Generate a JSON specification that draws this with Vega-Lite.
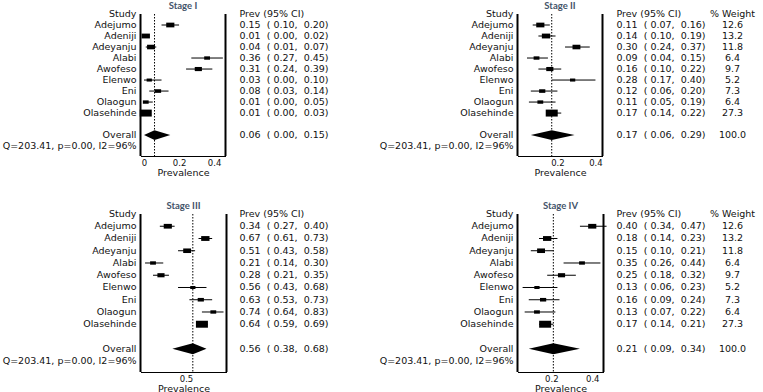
{
 "$schema": "https://vega.github.io/schema/vega-lite/v6.json",
 "padding": {"left": 2.5, "top": 0, "right": 0, "bottom": 0},
 "config": {
  "view": {"stroke": null},
  "font": "DejaVu Sans",
  "text": {"fontSize": 9.5, "color": "#111", "font": "DejaVu Sans"},
  "title": {"font": "Lato", "fontSize": 9.5, "fontWeight": "bold", "color": "#44546a", "offset": -1},
  "axis": {"grid": false},
  "axisX": {"domainColor": "black", "domainWidth": 1, "ticks": false, "tickSize": 0, "labelPadding": 2, "labelFontSize": 8.5, "labelColor": "#111", "labelFont": "DejaVu Sans", "titleFont": "DejaVu Sans", "titleFontSize": 9.5, "titleFontWeight": "normal", "titleColor": "#111", "titlePadding": 0.5, "labelFlush": false}
 },
 "datasets": {
  "labels": [
   {"row": 0, "text": "Study"}, {"row": 1, "text": "Adejumo"}, {"row": 2, "text": "Adeniji"}, {"row": 3, "text": "Adeyanju"}, {"row": 4, "text": "Alabi"}, {"row": 5, "text": "Awofeso"}, {"row": 6, "text": "Elenwo"}, {"row": 7, "text": "Eni"}, {"row": 8, "text": "Olaogun"}, {"row": 9, "text": "Olasehinde"}, {"row": 11, "text": "Overall"}, {"row": 12, "text": "Q=203.41, p=0.00, I2=96%"}
  ],
  "headers": [
   {"row": 0, "col": "prev", "text": "Prev (95% CI)"},
   {"row": 0, "col": "weight", "text": "% Weight"}
  ],
  "studies": [
   {"stage": "I", "row": 1, "study": "Adejumo", "prev": 0.15, "lo": 0.10, "hi": 0.20, "weight": 12.6, "ci": "0.15\u00a0 ( 0.10,\u00a0 0.20)"},
   {"stage": "I", "row": 2, "study": "Adeniji", "prev": 0.01, "lo": 0.00, "hi": 0.02, "weight": 13.2, "ci": "0.01\u00a0 ( 0.00,\u00a0 0.02)"},
   {"stage": "I", "row": 3, "study": "Adeyanju", "prev": 0.04, "lo": 0.01, "hi": 0.07, "weight": 11.8, "ci": "0.04\u00a0 ( 0.01,\u00a0 0.07)"},
   {"stage": "I", "row": 4, "study": "Alabi", "prev": 0.36, "lo": 0.27, "hi": 0.45, "weight": 6.4, "ci": "0.36\u00a0 ( 0.27,\u00a0 0.45)"},
   {"stage": "I", "row": 5, "study": "Awofeso", "prev": 0.31, "lo": 0.24, "hi": 0.39, "weight": 9.7, "ci": "0.31\u00a0 ( 0.24,\u00a0 0.39)"},
   {"stage": "I", "row": 6, "study": "Elenwo", "prev": 0.03, "lo": 0.00, "hi": 0.10, "weight": 5.2, "ci": "0.03\u00a0 ( 0.00,\u00a0 0.10)"},
   {"stage": "I", "row": 7, "study": "Eni", "prev": 0.08, "lo": 0.03, "hi": 0.14, "weight": 7.3, "ci": "0.08\u00a0 ( 0.03,\u00a0 0.14)"},
   {"stage": "I", "row": 8, "study": "Olaogun", "prev": 0.01, "lo": 0.00, "hi": 0.05, "weight": 6.4, "ci": "0.01\u00a0 ( 0.00,\u00a0 0.05)"},
   {"stage": "I", "row": 9, "study": "Olasehinde", "prev": 0.01, "lo": 0.00, "hi": 0.03, "weight": 27.3, "ci": "0.01\u00a0 ( 0.00,\u00a0 0.03)"},
   {"stage": "I", "row": 11, "study": "Overall", "prev": 0.06, "lo": 0.00, "hi": 0.15, "weight": 100, "ci": "0.06\u00a0 ( 0.00,\u00a0 0.15)"},
   {"stage": "II", "row": 1, "study": "Adejumo", "prev": 0.11, "lo": 0.07, "hi": 0.16, "weight": 12.6, "ci": "0.11\u00a0 ( 0.07,\u00a0 0.16)"},
   {"stage": "II", "row": 2, "study": "Adeniji", "prev": 0.14, "lo": 0.10, "hi": 0.19, "weight": 13.2, "ci": "0.14\u00a0 ( 0.10,\u00a0 0.19)"},
   {"stage": "II", "row": 3, "study": "Adeyanju", "prev": 0.30, "lo": 0.24, "hi": 0.37, "weight": 11.8, "ci": "0.30\u00a0 ( 0.24,\u00a0 0.37)"},
   {"stage": "II", "row": 4, "study": "Alabi", "prev": 0.09, "lo": 0.04, "hi": 0.15, "weight": 6.4, "ci": "0.09\u00a0 ( 0.04,\u00a0 0.15)"},
   {"stage": "II", "row": 5, "study": "Awofeso", "prev": 0.16, "lo": 0.10, "hi": 0.22, "weight": 9.7, "ci": "0.16\u00a0 ( 0.10,\u00a0 0.22)"},
   {"stage": "II", "row": 6, "study": "Elenwo", "prev": 0.28, "lo": 0.17, "hi": 0.40, "weight": 5.2, "ci": "0.28\u00a0 ( 0.17,\u00a0 0.40)"},
   {"stage": "II", "row": 7, "study": "Eni", "prev": 0.12, "lo": 0.06, "hi": 0.20, "weight": 7.3, "ci": "0.12\u00a0 ( 0.06,\u00a0 0.20)"},
   {"stage": "II", "row": 8, "study": "Olaogun", "prev": 0.11, "lo": 0.05, "hi": 0.19, "weight": 6.4, "ci": "0.11\u00a0 ( 0.05,\u00a0 0.19)"},
   {"stage": "II", "row": 9, "study": "Olasehinde", "prev": 0.17, "lo": 0.14, "hi": 0.22, "weight": 27.3, "ci": "0.17\u00a0 ( 0.14,\u00a0 0.22)"},
   {"stage": "II", "row": 11, "study": "Overall", "prev": 0.17, "lo": 0.06, "hi": 0.29, "weight": 100, "ci": "0.17\u00a0 ( 0.06,\u00a0 0.29)"},
   {"stage": "III", "row": 1, "study": "Adejumo", "prev": 0.34, "lo": 0.27, "hi": 0.40, "weight": 12.6, "ci": "0.34\u00a0 ( 0.27,\u00a0 0.40)"},
   {"stage": "III", "row": 2, "study": "Adeniji", "prev": 0.67, "lo": 0.61, "hi": 0.73, "weight": 13.2, "ci": "0.67\u00a0 ( 0.61,\u00a0 0.73)"},
   {"stage": "III", "row": 3, "study": "Adeyanju", "prev": 0.51, "lo": 0.43, "hi": 0.58, "weight": 11.8, "ci": "0.51\u00a0 ( 0.43,\u00a0 0.58)"},
   {"stage": "III", "row": 4, "study": "Alabi", "prev": 0.21, "lo": 0.14, "hi": 0.30, "weight": 6.4, "ci": "0.21\u00a0 ( 0.14,\u00a0 0.30)"},
   {"stage": "III", "row": 5, "study": "Awofeso", "prev": 0.28, "lo": 0.21, "hi": 0.35, "weight": 9.7, "ci": "0.28\u00a0 ( 0.21,\u00a0 0.35)"},
   {"stage": "III", "row": 6, "study": "Elenwo", "prev": 0.56, "lo": 0.43, "hi": 0.68, "weight": 5.2, "ci": "0.56\u00a0 ( 0.43,\u00a0 0.68)"},
   {"stage": "III", "row": 7, "study": "Eni", "prev": 0.63, "lo": 0.53, "hi": 0.73, "weight": 7.3, "ci": "0.63\u00a0 ( 0.53,\u00a0 0.73)"},
   {"stage": "III", "row": 8, "study": "Olaogun", "prev": 0.74, "lo": 0.64, "hi": 0.83, "weight": 6.4, "ci": "0.74\u00a0 ( 0.64,\u00a0 0.83)"},
   {"stage": "III", "row": 9, "study": "Olasehinde", "prev": 0.64, "lo": 0.59, "hi": 0.69, "weight": 27.3, "ci": "0.64\u00a0 ( 0.59,\u00a0 0.69)"},
   {"stage": "III", "row": 11, "study": "Overall", "prev": 0.56, "lo": 0.38, "hi": 0.68, "weight": 100, "ci": "0.56\u00a0 ( 0.38,\u00a0 0.68)"},
   {"stage": "IV", "row": 1, "study": "Adejumo", "prev": 0.40, "lo": 0.34, "hi": 0.47, "weight": 12.6, "ci": "0.40\u00a0 ( 0.34,\u00a0 0.47)"},
   {"stage": "IV", "row": 2, "study": "Adeniji", "prev": 0.18, "lo": 0.14, "hi": 0.23, "weight": 13.2, "ci": "0.18\u00a0 ( 0.14,\u00a0 0.23)"},
   {"stage": "IV", "row": 3, "study": "Adeyanju", "prev": 0.15, "lo": 0.10, "hi": 0.21, "weight": 11.8, "ci": "0.15\u00a0 ( 0.10,\u00a0 0.21)"},
   {"stage": "IV", "row": 4, "study": "Alabi", "prev": 0.35, "lo": 0.26, "hi": 0.44, "weight": 6.4, "ci": "0.35\u00a0 ( 0.26,\u00a0 0.44)"},
   {"stage": "IV", "row": 5, "study": "Awofeso", "prev": 0.25, "lo": 0.18, "hi": 0.32, "weight": 9.7, "ci": "0.25\u00a0 ( 0.18,\u00a0 0.32)"},
   {"stage": "IV", "row": 6, "study": "Elenwo", "prev": 0.13, "lo": 0.06, "hi": 0.23, "weight": 5.2, "ci": "0.13\u00a0 ( 0.06,\u00a0 0.23)"},
   {"stage": "IV", "row": 7, "study": "Eni", "prev": 0.16, "lo": 0.09, "hi": 0.24, "weight": 7.3, "ci": "0.16\u00a0 ( 0.09,\u00a0 0.24)"},
   {"stage": "IV", "row": 8, "study": "Olaogun", "prev": 0.13, "lo": 0.07, "hi": 0.22, "weight": 6.4, "ci": "0.13\u00a0 ( 0.07,\u00a0 0.22)"},
   {"stage": "IV", "row": 9, "study": "Olasehinde", "prev": 0.17, "lo": 0.14, "hi": 0.21, "weight": 27.3, "ci": "0.17\u00a0 ( 0.14,\u00a0 0.21)"},
   {"stage": "IV", "row": 11, "study": "Overall", "prev": 0.21, "lo": 0.09, "hi": 0.34, "weight": 100, "ci": "0.21\u00a0 ( 0.09,\u00a0 0.34)"}
  ],
  "diamond": [
   {"stage": "I", "x": 0.00, "top": 11, "bot": 11}, {"stage": "I", "x": 0.06, "top": 10.55, "bot": 11.45}, {"stage": "I", "x": 0.15, "top": 11, "bot": 11},
   {"stage": "II", "x": 0.06, "top": 11, "bot": 11}, {"stage": "II", "x": 0.17, "top": 10.55, "bot": 11.45}, {"stage": "II", "x": 0.29, "top": 11, "bot": 11},
   {"stage": "III", "x": 0.38, "top": 11, "bot": 11}, {"stage": "III", "x": 0.56, "top": 10.55, "bot": 11.45}, {"stage": "III", "x": 0.68, "top": 11, "bot": 11},
   {"stage": "IV", "x": 0.09, "top": 11, "bot": 11}, {"stage": "IV", "x": 0.21, "top": 10.55, "bot": 11.45}, {"stage": "IV", "x": 0.34, "top": 11, "bot": 11}
  ]
 },
 "columns": 4,
 "bounds": "flush",
 "spacing": {"row": 58, "column": 13},
 "concat": [
  {
   "width": 85, "height": 142, "title": "Stage I",
   "layer": [
    {"data": {"name": "studies"}, "transform": [{"filter": "datum.stage=='I' && datum.row<11"}],
     "mark": {"type": "rule", "color": "black", "strokeWidth": 1},
     "encoding": {
      "x": {"field": "lo", "type": "quantitative", "scale": {"domain": [-0.02, 0.465], "nice": false, "zero": false}, "axis": {"values": [0, 0.2, 0.4], "format": "~g", "title": "Prevalence"}},
      "x2": {"field": "hi"},
      "y": {"field": "row", "type": "quantitative", "scale": {"domain": [0, 12.9], "reverse": true, "nice": false, "zero": false}, "axis": null}}},
    {"data": {"name": "studies"}, "transform": [{"filter": "datum.stage=='I' && datum.row<11"}],
     "mark": {"type": "point", "shape": "M-1,-0.58L1,-0.58L1,0.58L-1,0.58Z", "filled": true, "opacity": 1, "color": "black"},
     "encoding": {"x": {"field": "prev", "type": "quantitative"}, "y": {"field": "row", "type": "quantitative"}, "size": {"field": "weight", "type": "quantitative", "scale": {"domain": [0, 27.3], "range": [0, 144]}, "legend": null}}},
    {"data": {"name": "diamond"}, "transform": [{"filter": "datum.stage=='I'"}],
     "mark": {"type": "area", "orient": "vertical", "color": "black", "opacity": 1},
     "encoding": {"x": {"field": "x", "type": "quantitative"}, "y": {"field": "top", "type": "quantitative"}, "y2": {"field": "bot"}}},
    {"data": {"name": "studies"}, "transform": [{"filter": "datum.stage=='I' && datum.row==11"}],
     "mark": {"type": "rule", "color": "black", "strokeWidth": 1, "strokeDash": [1.5, 1.5]},
     "encoding": {"x": {"field": "prev", "type": "quantitative"}}},
    {"data": {"values": [{}]}, "mark": {"type": "rule", "color": "black", "strokeWidth": 2}, "encoding": {"x": {"datum": -0.02, "type": "quantitative"}}},
    {"data": {"values": [{}]}, "mark": {"type": "rule", "color": "black", "strokeWidth": 2}, "encoding": {"x": {"datum": 0.465, "type": "quantitative"}}},
    {"data": {"name": "labels"}, "mark": {"type": "text", "align": "right", "baseline": "middle", "dx": -4},
     "encoding": {"x": {"datum": -0.02, "type": "quantitative"}, "y": {"field": "row", "type": "quantitative"}, "text": {"field": "text"}}}
   ]
  },
  {
   "width": 265, "height": 142,
   "layer": [
    {"data": {"name": "headers"}, "transform": [{"filter": "datum.col=='prev'"}], "mark": {"type": "text", "align": "left", "baseline": "middle"},
     "encoding": {"x": {"datum": 0, "type": "quantitative", "scale": {"domain": [0, 1]}, "axis": null}, "y": {"field": "row", "type": "quantitative", "scale": {"domain": [0, 12.9], "reverse": true, "nice": false, "zero": false}, "axis": null}, "text": {"field": "text"}}},
    {"data": {"name": "studies"}, "transform": [{"filter": "datum.stage=='I'"}], "mark": {"type": "text", "align": "left", "baseline": "middle"},
     "encoding": {"x": {"datum": 0, "type": "quantitative"}, "y": {"field": "row", "type": "quantitative"}, "text": {"field": "ci"}}}
   ]
  },
  {
   "width": 85, "height": 142, "title": "Stage II",
   "layer": [
    {"data": {"name": "studies"}, "transform": [{"filter": "datum.stage=='II' && datum.row<11"}],
     "mark": {"type": "rule", "color": "black", "strokeWidth": 1},
     "encoding": {
      "x": {"field": "lo", "type": "quantitative", "scale": {"domain": [-0.01, 0.437], "nice": false, "zero": false}, "axis": {"values": [0.2, 0.4], "format": "~g", "title": "Prevalence"}},
      "x2": {"field": "hi"},
      "y": {"field": "row", "type": "quantitative", "scale": {"domain": [0, 12.9], "reverse": true, "nice": false, "zero": false}, "axis": null}}},
    {"data": {"name": "studies"}, "transform": [{"filter": "datum.stage=='II' && datum.row<11"}],
     "mark": {"type": "point", "shape": "M-1,-0.58L1,-0.58L1,0.58L-1,0.58Z", "filled": true, "opacity": 1, "color": "black"},
     "encoding": {"x": {"field": "prev", "type": "quantitative"}, "y": {"field": "row", "type": "quantitative"}, "size": {"field": "weight", "type": "quantitative", "scale": {"domain": [0, 27.3], "range": [0, 144]}, "legend": null}}},
    {"data": {"name": "diamond"}, "transform": [{"filter": "datum.stage=='II'"}],
     "mark": {"type": "area", "orient": "vertical", "color": "black", "opacity": 1},
     "encoding": {"x": {"field": "x", "type": "quantitative"}, "y": {"field": "top", "type": "quantitative"}, "y2": {"field": "bot"}}},
    {"data": {"name": "studies"}, "transform": [{"filter": "datum.stage=='II' && datum.row==11"}],
     "mark": {"type": "rule", "color": "black", "strokeWidth": 1, "strokeDash": [1.5, 1.5]},
     "encoding": {"x": {"field": "prev", "type": "quantitative"}}},
    {"data": {"values": [{}]}, "mark": {"type": "rule", "color": "black", "strokeWidth": 2}, "encoding": {"x": {"datum": -0.01, "type": "quantitative"}}},
    {"data": {"values": [{}]}, "mark": {"type": "rule", "color": "black", "strokeWidth": 2}, "encoding": {"x": {"datum": 0.437, "type": "quantitative"}}},
    {"data": {"name": "labels"}, "mark": {"type": "text", "align": "right", "baseline": "middle", "dx": -4},
     "encoding": {"x": {"datum": -0.01, "type": "quantitative"}, "y": {"field": "row", "type": "quantitative"}, "text": {"field": "text"}}}
   ]
  },
  {
   "width": 145, "height": 142,
   "layer": [
    {"data": {"name": "headers"}, "transform": [{"filter": "datum.col=='prev'"}], "mark": {"type": "text", "align": "left", "baseline": "middle"},
     "encoding": {"x": {"datum": 0, "type": "quantitative", "scale": {"domain": [0, 1]}, "axis": null}, "y": {"field": "row", "type": "quantitative", "scale": {"domain": [0, 12.9], "reverse": true, "nice": false, "zero": false}, "axis": null}, "text": {"field": "text"}}},
    {"data": {"name": "studies"}, "transform": [{"filter": "datum.stage=='II'"}], "mark": {"type": "text", "align": "left", "baseline": "middle"},
     "encoding": {"x": {"datum": 0, "type": "quantitative"}, "y": {"field": "row", "type": "quantitative"}, "text": {"field": "ci"}}},
    {"data": {"name": "headers"}, "transform": [{"filter": "datum.col=='weight'"}], "mark": {"type": "text", "align": "center", "baseline": "middle"},
     "encoding": {"x": {"datum": 0.8, "type": "quantitative"}, "y": {"field": "row", "type": "quantitative"}, "text": {"field": "text"}}},
    {"data": {"name": "studies"}, "transform": [{"filter": "datum.stage=='II'"}], "mark": {"type": "text", "align": "center", "baseline": "middle"},
     "encoding": {"x": {"datum": 0.8, "type": "quantitative"}, "y": {"field": "row", "type": "quantitative"}, "text": {"field": "weight", "type": "quantitative", "format": ".1f"}}}
   ]
  },
  {
   "width": 86, "height": 158, "title": "Stage III",
   "layer": [
    {"data": {"name": "studies"}, "transform": [{"filter": "datum.stage=='III' && datum.row<11"}],
     "mark": {"type": "rule", "color": "black", "strokeWidth": 1},
     "encoding": {
      "x": {"field": "lo", "type": "quantitative", "scale": {"domain": [0.1, 0.856], "nice": false, "zero": false}, "axis": {"values": [0.5], "format": "~g", "title": "Prevalence"}},
      "x2": {"field": "hi"},
      "y": {"field": "row", "type": "quantitative", "scale": {"domain": [0, 12.9], "reverse": true, "nice": false, "zero": false}, "axis": null}}},
    {"data": {"name": "studies"}, "transform": [{"filter": "datum.stage=='III' && datum.row<11"}],
     "mark": {"type": "point", "shape": "M-1,-0.58L1,-0.58L1,0.58L-1,0.58Z", "filled": true, "opacity": 1, "color": "black"},
     "encoding": {"x": {"field": "prev", "type": "quantitative"}, "y": {"field": "row", "type": "quantitative"}, "size": {"field": "weight", "type": "quantitative", "scale": {"domain": [0, 27.3], "range": [0, 144]}, "legend": null}}},
    {"data": {"name": "diamond"}, "transform": [{"filter": "datum.stage=='III'"}],
     "mark": {"type": "area", "orient": "vertical", "color": "black", "opacity": 1},
     "encoding": {"x": {"field": "x", "type": "quantitative"}, "y": {"field": "top", "type": "quantitative"}, "y2": {"field": "bot"}}},
    {"data": {"name": "studies"}, "transform": [{"filter": "datum.stage=='III' && datum.row==11"}],
     "mark": {"type": "rule", "color": "black", "strokeWidth": 1, "strokeDash": [1.5, 1.5]},
     "encoding": {"x": {"field": "prev", "type": "quantitative"}}},
    {"data": {"values": [{}]}, "mark": {"type": "rule", "color": "black", "strokeWidth": 2}, "encoding": {"x": {"datum": 0.1, "type": "quantitative"}}},
    {"data": {"values": [{}]}, "mark": {"type": "rule", "color": "black", "strokeWidth": 2}, "encoding": {"x": {"datum": 0.856, "type": "quantitative"}}},
    {"data": {"name": "labels"}, "mark": {"type": "text", "align": "right", "baseline": "middle", "dx": -4},
     "encoding": {"x": {"datum": 0.1, "type": "quantitative"}, "y": {"field": "row", "type": "quantitative"}, "text": {"field": "text"}}}
   ]
  },
  {
   "width": 264, "height": 158,
   "layer": [
    {"data": {"name": "headers"}, "transform": [{"filter": "datum.col=='prev'"}], "mark": {"type": "text", "align": "left", "baseline": "middle"},
     "encoding": {"x": {"datum": 0, "type": "quantitative", "scale": {"domain": [0, 1]}, "axis": null}, "y": {"field": "row", "type": "quantitative", "scale": {"domain": [0, 12.9], "reverse": true, "nice": false, "zero": false}, "axis": null}, "text": {"field": "text"}}},
    {"data": {"name": "studies"}, "transform": [{"filter": "datum.stage=='III'"}], "mark": {"type": "text", "align": "left", "baseline": "middle"},
     "encoding": {"x": {"datum": 0, "type": "quantitative"}, "y": {"field": "row", "type": "quantitative"}, "text": {"field": "ci"}}}
   ]
  },
  {
   "width": 86, "height": 158, "title": "Stage IV",
   "layer": [
    {"data": {"name": "studies"}, "transform": [{"filter": "datum.stage=='IV' && datum.row<11"}],
     "mark": {"type": "rule", "color": "black", "strokeWidth": 1},
     "encoding": {
      "x": {"field": "lo", "type": "quantitative", "scale": {"domain": [0.035, 0.455], "nice": false, "zero": false}, "axis": {"values": [0.2, 0.4], "format": "~g", "title": "Prevalence"}},
      "x2": {"field": "hi"},
      "y": {"field": "row", "type": "quantitative", "scale": {"domain": [0, 12.9], "reverse": true, "nice": false, "zero": false}, "axis": null}}},
    {"data": {"name": "studies"}, "transform": [{"filter": "datum.stage=='IV' && datum.row<11"}],
     "mark": {"type": "point", "shape": "M-1,-0.58L1,-0.58L1,0.58L-1,0.58Z", "filled": true, "opacity": 1, "color": "black"},
     "encoding": {"x": {"field": "prev", "type": "quantitative"}, "y": {"field": "row", "type": "quantitative"}, "size": {"field": "weight", "type": "quantitative", "scale": {"domain": [0, 27.3], "range": [0, 144]}, "legend": null}}},
    {"data": {"name": "diamond"}, "transform": [{"filter": "datum.stage=='IV'"}],
     "mark": {"type": "area", "orient": "vertical", "color": "black", "opacity": 1},
     "encoding": {"x": {"field": "x", "type": "quantitative"}, "y": {"field": "top", "type": "quantitative"}, "y2": {"field": "bot"}}},
    {"data": {"name": "studies"}, "transform": [{"filter": "datum.stage=='IV' && datum.row==11"}],
     "mark": {"type": "rule", "color": "black", "strokeWidth": 1, "strokeDash": [1.5, 1.5]},
     "encoding": {"x": {"field": "prev", "type": "quantitative"}}},
    {"data": {"values": [{}]}, "mark": {"type": "rule", "color": "black", "strokeWidth": 2}, "encoding": {"x": {"datum": 0.035, "type": "quantitative"}}},
    {"data": {"values": [{}]}, "mark": {"type": "rule", "color": "black", "strokeWidth": 2}, "encoding": {"x": {"datum": 0.455, "type": "quantitative"}}},
    {"data": {"name": "labels"}, "mark": {"type": "text", "align": "right", "baseline": "middle", "dx": -4},
     "encoding": {"x": {"datum": 0.035, "type": "quantitative"}, "y": {"field": "row", "type": "quantitative"}, "text": {"field": "text"}}}
   ]
  },
  {
   "width": 145, "height": 158,
   "layer": [
    {"data": {"name": "headers"}, "transform": [{"filter": "datum.col=='prev'"}], "mark": {"type": "text", "align": "left", "baseline": "middle"},
     "encoding": {"x": {"datum": 0, "type": "quantitative", "scale": {"domain": [0, 1]}, "axis": null}, "y": {"field": "row", "type": "quantitative", "scale": {"domain": [0, 12.9], "reverse": true, "nice": false, "zero": false}, "axis": null}, "text": {"field": "text"}}},
    {"data": {"name": "studies"}, "transform": [{"filter": "datum.stage=='IV'"}], "mark": {"type": "text", "align": "left", "baseline": "middle"},
     "encoding": {"x": {"datum": 0, "type": "quantitative"}, "y": {"field": "row", "type": "quantitative"}, "text": {"field": "ci"}}},
    {"data": {"name": "headers"}, "transform": [{"filter": "datum.col=='weight'"}], "mark": {"type": "text", "align": "center", "baseline": "middle"},
     "encoding": {"x": {"datum": 0.8, "type": "quantitative"}, "y": {"field": "row", "type": "quantitative"}, "text": {"field": "text"}}},
    {"data": {"name": "studies"}, "transform": [{"filter": "datum.stage=='IV'"}], "mark": {"type": "text", "align": "center", "baseline": "middle"},
     "encoding": {"x": {"datum": 0.8, "type": "quantitative"}, "y": {"field": "row", "type": "quantitative"}, "text": {"field": "weight", "type": "quantitative", "format": ".1f"}}}
   ]
  }
 ]
}
